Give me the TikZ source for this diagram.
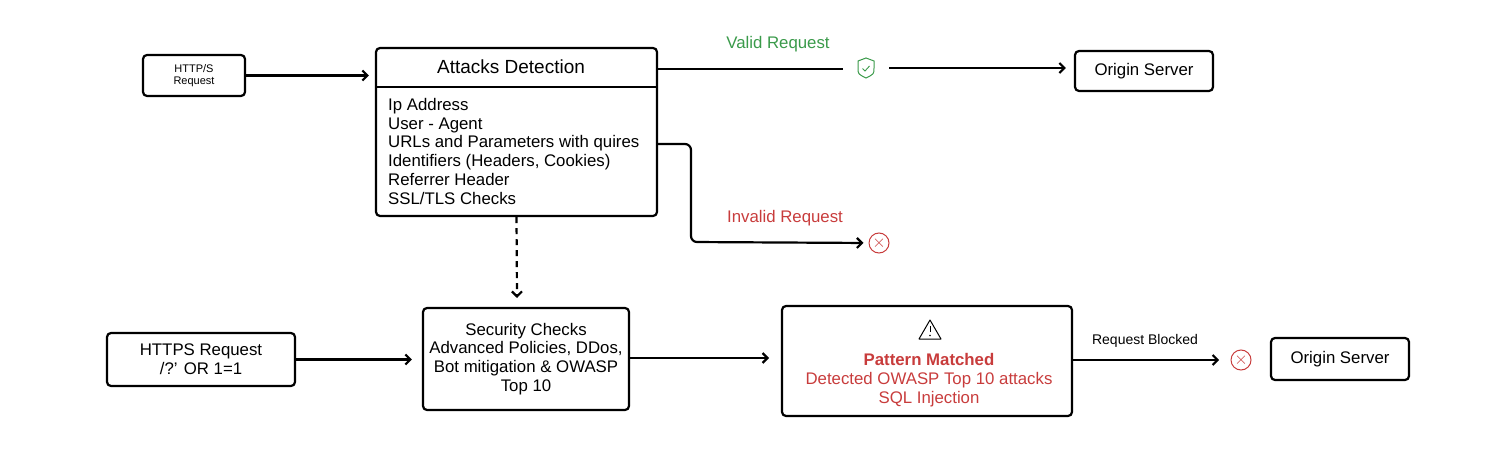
\documentclass[tikz,border=0pt]{standalone}
\usepackage{fontspec}
\setmainfont{Liberation Sans}
\usetikzlibrary{arrows.meta}
\definecolor{okgreen}{HTML}{3A9A4A}
\definecolor{badred}{HTML}{C83C3C}
\tikzstyle{box}=[draw, line width=2.2pt, rounded corners=4pt, align=center, inner sep=0pt]
\tikzstyle{flow}=[draw, line width=2.2pt, -{Straight Barb[length=5pt,width=10pt]}, rounded corners=6pt]
\tikzstyle{xmark}=[circle, draw=badred, line width=1pt, minimum size=20pt, inner sep=0pt, text=badred]
\begin{document}
\begin{tikzpicture}[x=1pt, y=-1pt, font=\fontsize{16.8}{18.8}\selectfont]
\useasboundingbox (0,0) rectangle (1496,462);
% top row
\node[box, minimum width=102pt, minimum height=41pt, font=\fontsize{11}{12.5}\selectfont] (req) at (194,75.5) {HTTP/S\\Request};
\node[box, minimum width=281pt, minimum height=168pt] (det) at (516.5,132) {};
\draw[line width=2.2pt] (376,87) -- (657,87);
\node[font=\fontsize{19}{22}\selectfont] (dettitle) at (511,67) {Attacks Detection};
\node[anchor=north west, align=left, inner sep=0pt] (detlist) at (388,98) {Ip Address\\User - Agent\\URLs and Parameters with quires\\Identifiers (Headers, Cookies)\\Referrer Header\\SSL/TLS Checks};
\node[box, minimum width=138pt, minimum height=40pt] (orig1) at (1144,71) {Origin Server};
% shield
\node[inner sep=0pt, minimum size=20pt] (shield) at (866,68) {};
\draw[okgreen, line width=1pt] (866,58) -- (874,61) -- (874,68) .. controls (874,74) .. (866,78) .. controls (858,74) .. (858,68) -- (858,61) -- cycle;
\draw[okgreen, line width=0.9pt] (862.5,68.5) -- (865,71) -- (869.5,66);
\node[xmark] (bad1) at (879,243) {$\times$};
\coordinate (valid) at (843,69);
\coordinate (gate) at (889,68);
\draw[line width=2.2pt] (det.east|-valid) -- (valid);
\draw[flow, shorten >=8pt] (gate) -- (orig1.west|-gate);
\node[text=okgreen] (validlbl) at (778,44) {Valid Request};
\node[text=badred] (invlbl) at (785,218) {Invalid Request};
\coordinate (inv) at (657,144);
\draw[flow, shorten >=5pt] (inv) -| (691,242) -- (bad1.west);
\draw[flow, shorten >=6pt] (req) -- (det.west|-req);
% bottom row
\node[box, minimum width=188pt, minimum height=53pt] (https) at (201,359.5) {HTTPS Request\\/?' OR 1=1};
\node[box, minimum width=206pt, minimum height=102pt] (sec) at (526,359) {Security Checks\\Advanced Policies, DDos,\\Bot mitigation \& OWASP\\Top 10};
\node[box, minimum width=290pt, minimum height=110pt] (pat) at (927,361) {};
\node[text=badred, align=center] (pattxt) at (929,380) {\textbf{Pattern Matched}\\Detected OWASP Top 10 attacks\\SQL Injection};
\draw[line width=1pt, line join=round] (930,320) -- (941,339) -- (919,339) -- cycle;
\draw[line width=1pt] (930,326) -- (930,332);
\fill (930,335.5) circle (0.8pt);
\node[xmark] (bad2) at (1241,360) {$\times$};
\node[box, minimum width=138pt, minimum height=42pt] (orig2) at (1340,359) {Origin Server};
\node[font=\fontsize{14}{16}\selectfont] (blocklbl) at (1145,341) {Request Blocked};
\coordinate (dashend) at (517,298);
\draw[flow, dash pattern=on 6pt off 5pt] (det.south) -- (dashend);
\draw[flow, shorten >=10pt] (https) -- (sec.west|-https);
\draw[flow] (sec.east|-pat) ++(0,-3) -- ++(139,0);
\draw[flow] (pat.east|-bad2) -- ++(146,0);
\end{tikzpicture}
\end{document}
